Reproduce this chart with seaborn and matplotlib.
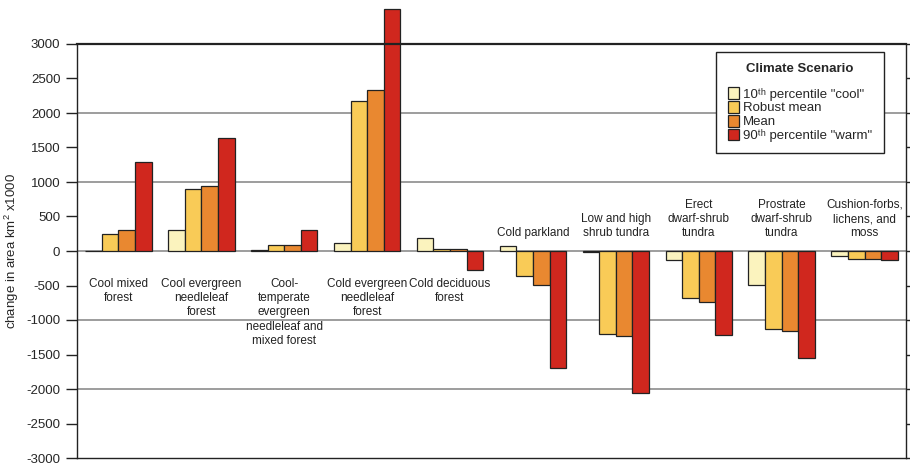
import matplotlib
matplotlib.use("Agg")
import matplotlib.pyplot as plt
from matplotlib.patches import Rectangle
from matplotlib.legend_handler import HandlerPatch
import seaborn as sns
import pandas as pd

categories = ["Cool mixed\nforest", "Cool evergreen\nneedleleaf\nforest",
              "Cool-\ntemperate\nevergreen\nneedleleaf and\nmixed forest",
              "Cold evergreen\nneedleleaf\nforest", "Cold deciduous\nforest",
              "Cold parkland", "Low and high\nshrub tundra", "Erect\ndwarf-shrub\ntundra",
              "Prostrate\ndwarf-shrub\ntundra", "Cushion-forbs,\nlichens, and\nmoss"]
scenarios = ['10\u1d57\u02b0 percentile "cool"', "Robust mean", "Mean",
             '90\u1d57\u02b0 percentile "warm"']
cool = [5, 310, 10, 122, 194, 73, -10, -125, -497, -72]
robust_mean = [252, 904, 92, 2170, 35, -357, -1198, -686, -1125, -110]
mean = [310, 938, 92, 2340, 35, -497, -1232, -734, -1160, -110]
warm = [1296, 1633, 300, 3513, -280, -1700, -2052, -1212, -1546, -125]
label_below = [True, True, True, True, True, False, False, False, False, False]
colors = ["#FBF3BE", "#F9CB57", "#E98830", "#D0271E"]

sns.set_style("white")
plt.rcParams["font.family"] = ["Liberation Sans", "DejaVu Sans"]
plt.rcParams["mathtext.fontset"] = "custom"
plt.rcParams["mathtext.rm"] = "Liberation Sans"
plt.rcParams["mathtext.it"] = "Liberation Sans:italic"
plt.rcParams["mathtext.bf"] = "Liberation Sans:bold"
plt.rcParams["axes.unicode_minus"] = False

rows = []
for s, vals in zip(scenarios, [cool, robust_mean, mean, warm]):
    for c, v in zip(categories, vals):
        rows.append({"cat": c, "val": v, "scen": s})
df = pd.DataFrame(rows)

fig = plt.figure(figsize=(9.1, 4.65), dpi=100)
ax = fig.add_axes([77 / 910, 7 / 465, 829 / 910, 414 / 465])

for yv in [-2000, -1000, 0, 1000, 2000]:
    ax.axhline(yv, color="#8c8c8c", lw=1.2, zorder=0)

sns.barplot(data=df, x="cat", y="val", hue="scen", order=categories,
            hue_order=scenarios, palette=colors, edgecolor="#222222",
            linewidth=0.9, width=0.8, ax=ax, saturation=1, legend=True,
            errorbar=None)
for p in ax.patches:
    p.set_clip_on(False)

ax.set_ylim(-3000, 3000)
ax.set_xlim(-0.5, len(categories) - 0.5)
ax.set_yticks(range(-3000, 3001, 500))
ax.set_xticks([])
ax.set_xlabel("")
ax.set_ylabel("change in area km$^2$ x1000", fontsize=9.5, labelpad=4)
ax.tick_params(axis="y", which="both", direction="out", length=8, width=1,
               left=True, right=True, labelsize=9.5, color="#222222", pad=4)
for s in ax.spines.values():
    s.set_color("#222222")
    s.set_linewidth(1.0)
ax.spines["top"].set_linewidth(1.6)

for i, (c, below) in enumerate(zip(categories, label_below)):
    if below:
        ax.text(i, -390, c, ha="center", va="top", fontsize=8.5,
                color="#222222", linespacing=1.25)
    else:
        ax.text(i, 170, c, ha="center", va="bottom", fontsize=8.5,
                color="#222222", linespacing=1.25)


def small_square(legend, orig_handle, xdescent, ydescent, width, height, fontsize):
    s = 0.88 * fontsize
    return Rectangle((-xdescent + (width - s) / 2, -ydescent + (height - s) / 2), s, s)


handles, labels = ax.get_legend_handles_labels()
leg = ax.legend(handles, labels, title="Climate Scenario", loc="upper left",
                bbox_to_anchor=(0.771, 0.981), fontsize=9.5,
                title_fontproperties={"weight": "bold", "size": 9.5},
                handlelength=0.95, handleheight=0.9, handletextpad=0.25,
                labelspacing=0.06, borderpad=0.85, frameon=True, fancybox=False,
                framealpha=1, edgecolor="#222222", borderaxespad=0,
                handler_map={Rectangle: HandlerPatch(patch_func=small_square)})
leg.get_frame().set_linewidth(1.0)
leg._legend_box.sep = 9

fig.savefig("out.png", dpi=100)
